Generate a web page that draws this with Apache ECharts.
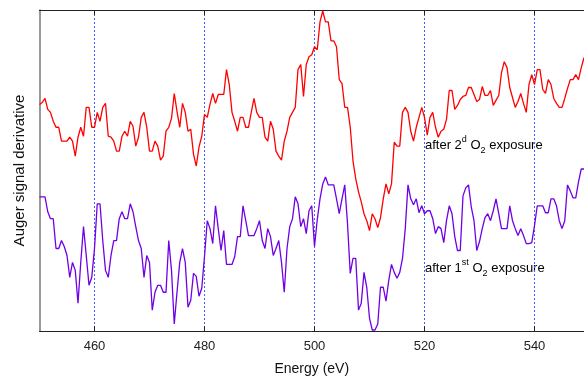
<!DOCTYPE html>
<html>
<head>
<meta charset="utf-8">
<script src="https://cdn.jsdelivr.net/npm/echarts@6/dist/echarts.min.js"></script>
<style>html,body{margin:0;padding:0;background:#fff}#c{width:584px;height:381px}</style>
</head>
<body>
<div id="c"></div>
<script>
// Energy grid (eV)
var energy = [
450,450.5,451,451.5,452,452.5,453,453.5,454,454.5,455,455.5,456,456.5,457,457.5,458,458.5,459,459.5,
460,460.5,461,461.5,462,462.5,463,463.5,464,464.5,465,465.5,466,466.5,467,467.5,468,468.5,469,469.5,
470,470.5,471,471.5,472,472.5,473,473.5,474,474.5,475,475.5,476,476.5,477,477.5,478,478.5,479,479.5,
480,480.5,481,481.5,482,482.5,483,483.5,484,484.5,485,485.5,486,486.5,487,487.5,488,488.5,489,489.5,
490,490.5,491,491.5,492,492.5,493,493.5,494,494.5,495,495.5,496,496.5,497,497.5,498,498.5,499,499.5,
500,500.5,501,501.5,502,502.5,503,503.5,504,504.5,505,505.5,506,506.5,507,507.5,508,508.5,509,509.5,
510,510.5,511,511.5,512,512.5,513,513.5,514,514.5,515,515.5,516,516.5,517,517.5,518,518.5,519,519.5,
520,520.5,521,521.5,522,522.5,523,523.5,524,524.5,525,525.5,526,526.5,527,527.5,528,528.5,529,529.5,
530,530.5,531,531.5,532,532.5,533,533.5,534,534.5,535,535.5,536,536.5,537,537.5,538,538.5,539,539.5,
540,540.5,541,541.5,542,542.5,543,543.5,544,544.5,545,545.5,546,546.5,547,547.5,548,548.5,549
];

// after 2nd O2 exposure (arbitrary units)
var second = [
228,
230,234,223,220,211,205,205,191,191,191,195,191,176,195,205,196,225,225,205,205,220,211,225,229,196,195,191,181,
181,196,201,196,211,206,186,195,215,220,205,181,181,191,186,172,176,201,205,214,239,221,205,229,220,201,203,178,
166,185,196,218,215,228,239,229,238,238,238,263,248,220,211,201,215,215,205,205,220,234,220,215,215,195,191,211,
203,181,176,172,191,201,215,220,225,263,268,236,268,276,278,286,283,311,322,311,311,292,292,286,253,249,225,225,205,
171,153,140,130,118,111,101,118,113,104,114,133,148,138,148,190,186,186,220,225,220,201,191,205,215,225,215,197,
215,220,205,195,201,203,213,242,242,223,227,233,236,237,245,245,238,231,233,246,237,237,242,227,232,237,260,271,
265,245,235,225,231,239,229,220,248,258,248,263,263,243,239,253,248,234,229,225,225,234,244,253,253,258,253,265,275
];

// after 1st O2 exposure (arbitrary units)
var first = [
135,
135,135,120,113,113,83,83,91,85,76,54,69,61,28,69,105,76,46,54,83,128,128,91,61,54,76,91,91,
113,120,113,113,128,120,105,91,83,54,76,69,21,39,46,46,39,39,91,61,7,39,69,83,69,24,31,58,
55,35,43,75,111,103,88,126,103,81,101,67,67,67,75,95,95,126,111,96,96,96,103,111,91,83,103,95,
76,83,91,69,39,83,105,113,135,128,105,113,98,121,126,85,112,133,148,155,147,147,147,133,118,133,147,108,58,
73,73,21,28,59,44,13,1,1,7,44,44,30,51,67,59,53,59,73,103,147,133,127,133,119,126,118,121,
121,113,98,105,103,89,111,126,118,95,81,81,136,144,147,125,111,81,90,103,114,118,111,121,133,118,103,103,
103,126,111,103,96,103,96,88,88,89,106,126,126,126,119,119,133,133,126,111,103,111,147,141,134,134,150,163,163
];

var xTicks = [460, 480, 500, 520, 540];

function pairs(xs, ys) { return xs.map(function (x, i) { return [x, ys[i]]; }); }

var chart = echarts.init(document.getElementById('c'), null, {renderer: 'canvas'});
var font = 'Liberation Sans, Arial, sans-serif';
var rich = {
  a: {fontFamily: font, fontSize: 13, color: '#111', lineHeight: 20},
  sup: {fontFamily: font, fontSize: 9, color: '#111', lineHeight: 12, verticalAlign: 'top'},
  sub: {fontFamily: font, fontSize: 9, color: '#111', lineHeight: 12, verticalAlign: 'bottom'}
};
chart.setOption({
  animation: false,
  backgroundColor: '#fff',
  grid: {left: 39.5, right: 0, top: 10, bottom: 48},
  xAxis: [{
    type: 'value', min: 450, max: 549, interval: 10, position: 'bottom',
    name: 'Energy (eV)', nameLocation: 'middle', nameGap: 31,
    nameTextStyle: {fontFamily: font, fontSize: 14, color: '#111'},
    axisLine: {show: true, lineStyle: {color: '#222', width: 1}},
    axisTick: {show: true, inside: true, length: 5, lineStyle: {color: '#222'},
      customValues: xTicks},
    axisLabel: {fontFamily: font, fontSize: 13, color: '#222', margin: 9,
      customValues: xTicks},
    splitLine: {show: true, lineStyle: {color: '#4a5cff', width: 1, type: [2, 2]}},
    minorTick: {show: false}
  }, {
    type: 'value', min: 450, max: 549, interval: 10, position: 'top',
    axisLine: {show: true, lineStyle: {color: '#222', width: 1}},
    axisTick: {show: true, inside: true, length: 5, lineStyle: {color: '#222'},
      customValues: xTicks},
    axisLabel: {show: false},
    splitLine: {show: false}
  }],
  yAxis: {
    type: 'value', min: 0, max: 323,
    name: 'Auger signal derivative', nameLocation: 'middle', nameGap: 12,
    nameTextStyle: {fontFamily: font, fontSize: 15, color: '#111'},
    axisLine: {show: true, lineStyle: {color: '#777', width: 1.5}},
    axisTick: {show: false}, axisLabel: {show: false}, splitLine: {show: false}
  },
  series: [{
    name: 'after 2d O2 exposure', type: 'line', data: pairs(energy, second),
    showSymbol: false, symbol: 'none', lineStyle: {color: '#ff0000', width: 1.3},
    itemStyle: {color: '#ff0000'}, clip: true
  }, {
    name: 'after 1st O2 exposure', type: 'line', data: pairs(energy, first),
    showSymbol: false, symbol: 'none', lineStyle: {color: '#7000e6', width: 1.3},
    itemStyle: {color: '#7000e6'}, clip: true
  }],
  graphic: [{
    type: 'text', left: 425, top: 135,
    style: {text: '{a|after 2}{sup|d}{a| O}{sub|2}{a| exposure}', rich: rich}
  }, {
    type: 'text', left: 425, top: 258,
    style: {text: '{a|after 1}{sup|st}{a| O}{sub|2}{a| exposure}', rich: rich}
  }]
});
</script>
</body>
</html>
